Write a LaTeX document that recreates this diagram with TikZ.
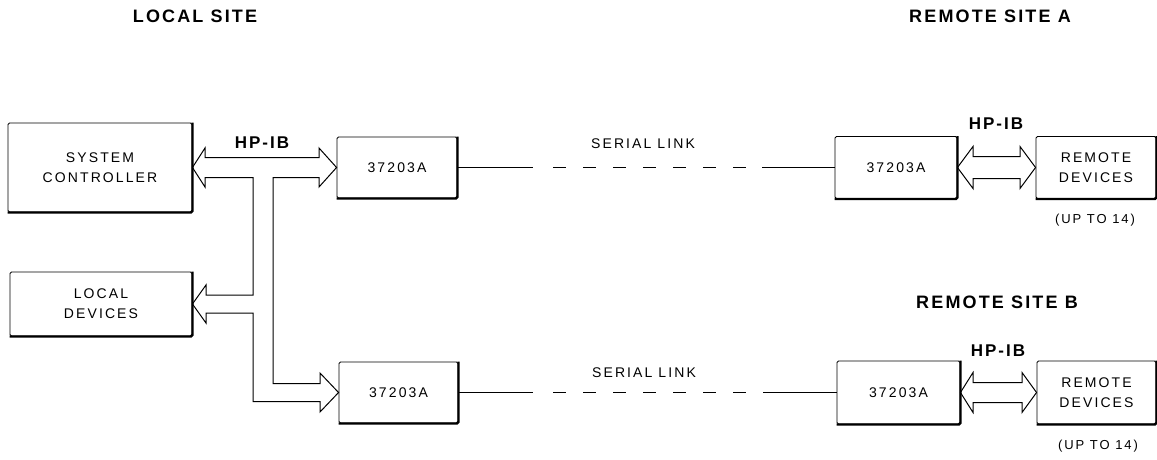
\documentclass[tikz,border=0pt]{standalone}
\usepackage{fontspec}
\setmainfont{Liberation Sans}
\newfontfamily\boxfont[LetterSpace=15]{Liberation Sans}
\newfontfamily\headfont[LetterSpace=12]{Liberation Sans}
\begin{document}
\begin{tikzpicture}[x=1pt,y=-1pt,
  box/.style={draw, line width=0.9pt, rounded corners=1.5pt, inner sep=0pt, align=center,
              font=\boxfont\fontsize{14}{20}\selectfont},
  shadowedge/.style={line width=2.4pt, rounded corners=1.5pt},
  bus/.style={draw, line width=1pt, line join=miter},
  serial/.style={line width=1.1pt},
  serialdash/.style={line width=1.1pt, dash pattern=on 13pt off 17pt},
  lbl/.style={font=\boxfont\fontsize{14}{20}\selectfont, inner sep=0pt},
  small/.style={font=\boxfont\fontsize{13}{16}\selectfont, inner sep=0pt},
  head/.style={font=\headfont\bfseries\fontsize{18}{22}\selectfont, inner sep=0pt},
  hpib/.style={font=\headfont\bfseries\fontsize{17}{20}\selectfont, inner sep=0pt}]
\useasboundingbox (0,0) rectangle (1157,460);

% boxes
\node[box, minimum width=184pt, minimum height=89pt] (sc) at (100,167.5) {SYSTEM\\CONTROLLER};
\node[box, minimum width=182pt, minimum height=64pt] (ld) at (101,304) {LOCAL\\DEVICES};
\node[box, minimum width=120pt, minimum height=61pt] (ta) at (397,167.5) {37203A};
\node[box, minimum width=119pt, minimum height=61pt] (ba) at (398.5,392.5) {37203A};
\node[box, minimum width=122pt, minimum height=62pt] (ra) at (896,167.5) {37203A};
\node[box, minimum width=120pt, minimum height=62pt] (rda) at (1096,167.5) {REMOTE\\DEVICES};
\node[box, minimum width=123pt, minimum height=63pt] (rb) at (898.5,392.5) {37203A};
\node[box, minimum width=119pt, minimum height=63pt] (rdb) at (1096.5,392.5) {REMOTE\\DEVICES};

\foreach \n in {sc,ld,ta,ba,ra,rda,rb,rdb}
  \draw[shadowedge] (\n.north east) -- (\n.south east) -- (\n.south west);

% local HP-IB bus (one hollow outline)
\draw[bus] (sc.east) -- (205,148) -- (205,157.5) -- (319,157.5) -- (319,148)
  -- (ta.west) -- (319,187) -- (319,177.5) -- (273,177.5) -- (273,383.5)
  -- (320,383.5) -- (320,373) -- (ba.west) -- (320,412) -- (320,401.5)
  -- (253,401.5) -- (253,313) -- (206,313) -- (206,323) -- (ld.east)
  -- (206,285) -- (206,295) -- (253,295) -- (253,177.5) -- (205,177.5)
  -- (205,187) -- cycle;

% remote HP-IB buses
\draw[bus] (ra.east) -- (973,146.5) -- (973,156.5) -- (1020,156.5) -- (1020,146.5)
  -- (rda.west) -- (1020,188.5) -- (1020,178.5) -- (973,178.5) -- (973,188.5) -- cycle;
\draw[bus] (rb.east) -- (973,372.5) -- (973,382.5) -- (1022,382.5) -- (1022,372.5)
  -- (rdb.west) -- (1022,412.5) -- (1022,402.5) -- (973,402.5) -- (973,412.5) -- cycle;

% serial links
\coordinate (t1) at (533,167.5); \coordinate (t2) at (553,167.5);
\coordinate (t3) at (747,167.5); \coordinate (t4) at (762,167.5);
\draw[serial] (ta.east) -- (t1);
\draw[serialdash] (t2) -- (t3);
\draw[serial] (t4) -- (ra.west);
\coordinate (b1) at (533,392.5); \coordinate (b2) at (553,392.5);
\coordinate (b3) at (747,392.5); \coordinate (b4) at (763,392.5);
\draw[serial] (ba.east) -- (b1);
\draw[serialdash] (b2) -- (b3);
\draw[serial] (b4) -- (rb.west);

% labels
\node[head] (lsite) at (195,16) {LOCAL SITE};
\node[head] (rsa) at (990,16) {REMOTE SITE A};
\node[head] (rsb) at (997,302) {REMOTE SITE B};
\node[hpib] (h1) at (262,143) {HP-IB};
\node[hpib] (h2) at (996,124) {HP-IB};
\node[hpib] (h3) at (998,351) {HP-IB};
\node[lbl] (sl1) at (643,144) {SERIAL LINK};
\node[lbl] (sl2) at (644,373) {SERIAL LINK};
\node[small] (u1) at (1095,220) {(UP TO 14)};
\node[small] (u2) at (1098,446) {(UP TO 14)};
\end{tikzpicture}
\end{document}
